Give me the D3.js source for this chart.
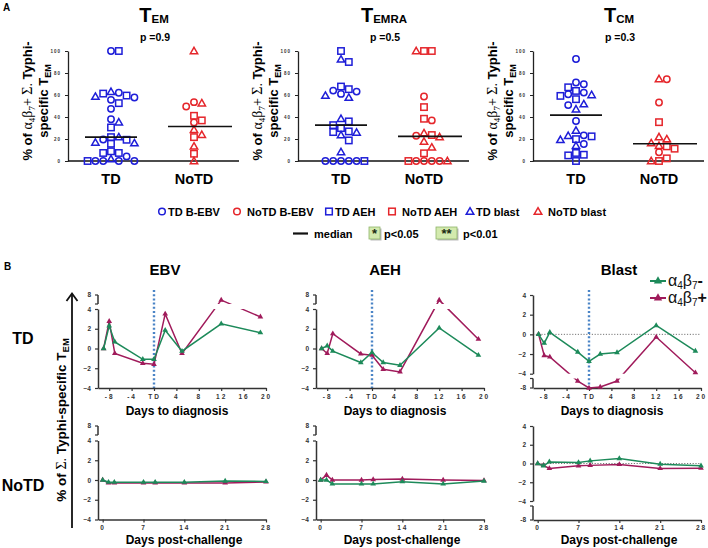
<!DOCTYPE html>
<html><head><meta charset="utf-8">
<script src="https://cdn.jsdelivr.net/npm/d3@7"></script>
<style>
body{margin:0;background:#fff}
svg{display:block}
text{font-family:"Liberation Sans",Arial,sans-serif}
</style>
</head><body>
<svg id="c" width="708" height="548"></svg>
<script>
// ---------------- DATA: panel A ----------------
const groupsA = ["TD", "NoTD"];
const subsetTitles = ["EM", "EMRA", "CM"];
const pValues = ["p =0.9", "p =0.5", "p =0.3"];
const yTicksA = [0, 20, 40, 60, 80, 100];
const legendLabelsA = ["TD B-EBV", "NoTD B-EBV", "TD AEH", "NoTD AEH", "TD blast", "NoTD blast"];

const temTD_BEBV = [100, 62, 57.7, 55.6, 47.4, 38, 19.6, 4.2, 0, 0, 0, 0];
const temTD_AEH = [100, 61.3, 59.5, 52.6, 30.5, 21.7, 19.3, 15.7, 8.8, 7.3, 7.3, 0];
const temTD_blast = [63, 58.6, 35.3, 21.7, 16.9, 16.3, 1.8];
const temNoTD_BEBV = [53.5, 49.5, 35];
const temNoTD_AEH = [41.1, 36.9, 21.7, 6.6];
const temNoTD_blast = [100, 52.6, 28.4, 23.9, 13.3, 0];

const temraTD_BEBV = [64, 63.1, 61, 0, 0, 0, 0, 0];
const temraTD_AEH = [100, 90, 67.7, 65.3, 36, 32.6, 29.9, 26.9, 26.3, 18.7, 0];
const temraTD_blast = [92.4, 59.5, 57.7, 38.4, 26, 23.6, 8.2];
const temraNoTD_BEBV = [58.6, 36.9, 23, 0, 0, 0, 0];
const temraNoTD_AEH = [100, 100, 49, 38.4, 23.6, 7, 0];
const temraNoTD_blast = [100, 25.4, 21.8, 17.8, 12.4, 0];

const tcmTD_BEBV = [92.7, 71.3, 69.8, 62.2, 60.7, 50.8, 36.3, 23.3, 15.4];
const tcmTD_AEH = [67, 63.7, 59.2, 56.2, 22.4, 19.9, 7.3, 5.7, 5.1, 0];
const tcmTD_blast = [60.1, 51.7, 47.1, 27.8, 23, 19.3, 13.9];
const tcmNoTD_BEBV = [74.3, 53.2, 7.9];
const tcmNoTD_AEH = [35.3, 13.3, 11.2, 2.4, 0];
const tcmNoTD_blast = [74.6, 21.8, 19.9, 16.3, 13.9, 0];

const mediansTD = [21.7, 32.6, 41.7];
const mediansNoTD = [31.4, 22.4, 15.7];

// ---------------- DATA: panel B ----------------
const antigens = ["EBV", "AEH", "Blast"];
const rowsB = ["TD", "NoTD"];
const daysTD = [-9, -8, -7, -2, 0, 2, 5, 12, 19];
const daysNoTD = [0, 1, 2, 7, 9, 14, 21, 28];
const xTicksTD = [-8, -4, 0, 4, 8, 12, 16, 20];
const xTickLabelsTD = ["-8", "-4", "TD", "4", "8", "12", "16", "20"];
const xTicksNoTD = [0, 7, 14, 21, 28];
const yTicksMain = [-4, -2, 0, 2, 4];

const ebvTD_neg = [0, 2.3, 0.67, -1.1, -1.1, 1.85, -0.27, 2.5, 1.6];
const ebvTD_pos = [0, 2.75, -0.5, -1.5, -1.6, 3.5, -0.5, 6.3, 3.2];
const aehTD_neg = [0, 0.27, -0.27, -1.42, -0.4, -1.42, -1.7, 2.08, -0.68];
const aehTD_pos = [0, -0.5, 1.5, -0.55, -0.68, -2.1, -2.37, 6.3, 0.94];
const blastTD_neg = [0, -0.9, 0.2, -1.8, -2.75, -2, -1.85, 0.9, -1.7];
const blastTD_pos = [0, -2.15, -2.3, -5.8, -8, -7.7, -5.8, -0.27, -3.9];

const ebvNo_neg = [0, -0.22, -0.22, -0.22, -0.22, -0.22, -0.1, -0.15];
const ebvNo_pos = [0, -0.3, -0.3, -0.3, -0.3, -0.3, -0.3, -0.2];
const aehNo_neg = [0, 0, -0.4, -0.4, -0.4, -0.17, -0.4, -0.1];
const aehNo_pos = [0, 0.5, 0, 0, 0.05, 0.1, 0, -0.05];
const blastNo_neg = [0, -0.25, 0.17, 0.1, 0.28, 0.53, -0.07, -0.25];
const blastNo_pos = [0, -0.2, -0.53, -0.25, -0.2, -0.1, -0.53, -0.5];

// ---------------- DRAWING ----------------
const svg = d3.select("#c");
const SERIF = '"Liberation Serif","DejaVu Serif",serif';
const BLUE = "#1e1ed8", RED = "#e5262b", GREEN = "#1d8a5a", MAG = "#a01b5b";

function shape(g, type, cx, cy, color, s) {
  s = s || 3.2;
  if (type === "circle") {
    g.append("circle").attr("cx", cx).attr("cy", cy).attr("r", s)
      .attr("fill", "none").attr("stroke", color).attr("stroke-width", 1.5);
  } else if (type === "square") {
    g.append("rect").attr("x", cx - s).attr("y", cy - s).attr("width", 2 * s).attr("height", 2 * s)
      .attr("fill", "none").attr("stroke", color).attr("stroke-width", 1.5);
  } else {
    const h = s * 1.9, w = s * 1.15;
    g.append("path").attr("d", `M${cx},${cy - h * 0.6}L${cx + w},${cy + h * 0.45}L${cx - w},${cy + h * 0.45}Z`)
      .attr("fill", "none").attr("stroke", color).attr("stroke-width", 1.5).attr("stroke-linejoin", "miter");
  }
}

svg.append("text").attr("x", 3).attr("y", 11).text("A").attr("font-size", 10).attr("font-weight", "bold");

const yA = d3.scaleLinear().domain([0, 100]).range([161, 51]);
const panelsA = [
  { axisX: 68, TD: [temTD_BEBV, temTD_AEH, temTD_blast], NoTD: [temNoTD_BEBV, temNoTD_AEH, temNoTD_blast] },
  { axisX: 298, TD: [temraTD_BEBV, temraTD_AEH, temraTD_blast], NoTD: [temraNoTD_BEBV, temraNoTD_AEH, temraNoTD_blast] },
  { axisX: 533, TD: [tcmTD_BEBV, tcmTD_AEH, tcmTD_blast], NoTD: [tcmNoTD_BEBV, tcmNoTD_AEH, tcmNoTD_blast] }
];
const shapes = ["circle", "square", "triangle"];

panelsA.forEach((p, pi) => {
  const g = svg.append("g");
  const ax = p.axisX;
  const xg = d3.scalePoint().domain(groupsA).range([ax + 43, ax + 126]);
  const t = g.append("text").attr("x", ax + 86).attr("y", 22).attr("text-anchor", "middle").attr("font-weight", "bold");
  t.append("tspan").attr("font-size", 20).text("T");
  t.append("tspan").attr("font-size", 11.5).attr("dy", 1).text(subsetTitles[pi]);
  g.append("text").attr("x", ax + 87).attr("y", 41).attr("text-anchor", "middle").attr("font-weight", "bold")
    .attr("font-size", 10.5).text(pValues[pi]);
  const yAxis = g.append("g").attr("transform", `translate(${ax},0)`)
    .call(d3.axisLeft(yA).tickValues(yTicksA).tickSize(3).tickSizeOuter(0).tickPadding(4));
  yAxis.select(".domain").attr("stroke", "#222").attr("stroke-width", 1.3);
  yAxis.selectAll(".tick line").attr("stroke", "#222");
  yAxis.selectAll("text").attr("font-size", 4.5).attr("font-weight", "bold").attr("fill", "#333")
    .attr("letter-spacing", "1px");
  g.append("line").attr("x1", ax).attr("x2", ax + 171).attr("y1", yA(0)).attr("y2", yA(0))
    .attr("stroke", "#111").attr("stroke-width", 1.5);
  groupsA.forEach(gr => {
    g.append("text").attr("x", xg(gr)).attr("y", 184).attr("text-anchor", "middle")
      .attr("font-size", 14.5).attr("font-weight", "bold").text(gr);
  });
  const l1 = g.append("text").attr("transform", `translate(${ax - 36},101) rotate(-90)`)
    .attr("text-anchor", "middle").attr("font-size", 13).attr("font-weight", "bold");
  l1.append("tspan").text("% of ");
  l1.append("tspan").attr("font-family", SERIF).attr("font-weight", "normal").attr("font-size", 14).text("α");
  l1.append("tspan").attr("font-family", SERIF).attr("font-weight", "normal").attr("font-size", 9).attr("dy", 3).text("4");
  l1.append("tspan").attr("font-family", SERIF).attr("font-weight", "normal").attr("font-size", 14).attr("dy", -3).text("β");
  l1.append("tspan").attr("font-family", SERIF).attr("font-weight", "normal").attr("font-size", 9).attr("dy", 3).text("7");
  l1.append("tspan").attr("font-family", SERIF).attr("font-weight", "normal").attr("font-size", 14).attr("dy", -3).text("+ Σ.");
  l1.append("tspan").text(" Typhi-");
  const l2 = g.append("text").attr("transform", `translate(${ax - 20},101) rotate(-90)`)
    .attr("text-anchor", "middle").attr("font-size", 13).attr("font-weight", "bold");
  l2.append("tspan").text("specific T");
  l2.append("tspan").attr("font-size", 9).attr("dy", 3).text("EM");

  groupsA.forEach((gr, gi) => {
    const color = gi === 0 ? BLUE : RED;
    const pts = [];
    p[gr].forEach((arr, si) => arr.forEach(v => pts.push({ v, shape: shapes[si] })));
    pts.sort((a, b) => b.v - a.v);
    const placed = [];
    const step = 7.8;
    pts.forEach(pt => {
      const cy = yA(pt.v);
      let off = 0;
      for (let k = 0; k < 30; k++) {
        const cand = (k === 0 ? 0 : (k % 2 ? 1 : -1) * Math.ceil(k / 2)) * step;
        const hit = placed.some(q => Math.abs(q.cy - cy) < 6.5 && Math.abs(q.off - cand) < 7);
        if (!hit) { off = cand; break; }
      }
      placed.push({ cy, off });
      shape(g, pt.shape, xg(gr) + off, cy, color);
    });
    const med = gi === 0 ? mediansTD[pi] : mediansNoTD[pi];
    g.append("line").attr("x1", xg(gr) - 26).attr("x2", xg(gr) + 38 - (gi === 0 ? 12 : 0))
      .attr("y1", yA(med)).attr("y2", yA(med)).attr("stroke", "#111").attr("stroke-width", 1.6);
  });
});

const legX = [158, 233, 325, 388, 466, 534];
legendLabelsA.forEach((lab, i) => {
  const color = i % 2 === 0 ? BLUE : RED;
  const sh = shapes[Math.floor(i / 2)];
  const gap = i % 2 === 0 ? 10 : 14;
  shape(svg, sh, legX[i] + 4, 211.5, color, 3.3);
  svg.append("text").attr("x", legX[i] + gap).attr("y", 216).attr("font-size", 11).attr("font-weight", "bold").text(lab);
});
svg.append("line").attr("x1", 293).attr("x2", 308).attr("y1", 233.5).attr("y2", 233.5).attr("stroke", "#111").attr("stroke-width", 2.2);
svg.append("text").attr("x", 314).attr("y", 237.5).attr("font-size", 11).attr("font-weight", "bold").text("median");
[[369, 11, "*", "p<0.05", 384], [436, 21, "**", "p<0.01", 463]].forEach(b => {
  svg.append("rect").attr("x", b[0] + 1.5).attr("y", 228.5).attr("width", b[1]).attr("height", 12).attr("fill", "#bbb");
  svg.append("rect").attr("x", b[0]).attr("y", 227).attr("width", b[1]).attr("height", 12)
    .attr("fill", "#d3eaae").attr("stroke", "#8fb56a").attr("stroke-width", 0.8);
  svg.append("text").attr("x", b[0] + b[1] / 2).attr("y", 238).attr("text-anchor", "middle")
    .attr("font-size", 13).attr("font-weight", "bold").attr("fill", "#1a2a10").text(b[2]);
  svg.append("text").attr("x", b[4]).attr("y", 237.5).attr("font-size", 11).attr("font-weight", "bold").text(b[3]);
});

// ---------------- Panel B ----------------
svg.append("text").attr("x", 4).attr("y", 270).text("B").attr("font-size", 10).attr("font-weight", "bold");
const titleX = [165, 385, 619];
antigens.forEach((a, i) => {
  svg.append("text").attr("x", titleX[i]).attr("y", 275).attr("text-anchor", "middle")
    .attr("font-size", 15).attr("font-weight", "bold").text(a);
});
svg.append("text").attr("x", 23).attr("y", 344).attr("text-anchor", "middle").attr("font-size", 16).attr("font-weight", "bold").text(rowsB[0]);
svg.append("text").attr("x", 23).attr("y", 491).attr("text-anchor", "middle").attr("font-size", 16).attr("font-weight", "bold").text(rowsB[1]);
svg.append("line").attr("x1", 72).attr("x2", 72).attr("y1", 294).attr("y2", 528).attr("stroke", "#111").attr("stroke-width", 1.8);
svg.append("path").attr("d", "M66.5,301L72,293.5L77.5,301").attr("fill", "none").attr("stroke", "#111").attr("stroke-width", 1.8);
const yl = svg.append("text").attr("transform", "translate(66,420) rotate(-90)").attr("text-anchor", "middle")
  .attr("font-size", 13.5).attr("font-weight", "bold");
yl.append("tspan").text("% of ");
yl.append("tspan").attr("font-family", SERIF).attr("font-weight", "normal").attr("font-size", 14).text("Σ.");
yl.append("tspan").text(" Typhi-specific T");
yl.append("tspan").attr("font-size", 9.5).attr("dy", 3).text("EM");

[[GREEN, 281, "-"], [MAG, 298, "+"]].forEach(l => {
  svg.append("line").attr("x1", 650).attr("x2", 666).attr("y1", l[1]).attr("y2", l[1]).attr("stroke", l[0]).attr("stroke-width", 2);
  svg.append("path").attr("d", d3.symbol(d3.symbolTriangle, 30)()).attr("transform", `translate(658,${l[1]})`).attr("fill", l[0]);
  const t = svg.append("text").attr("x", 668).attr("y", l[1] + 5).attr("font-family", SERIF).attr("font-size", 16).attr("fill", "#111");
  t.append("tspan").text("α");
  t.append("tspan").attr("font-size", 10).attr("dy", 3).text("4");
  t.append("tspan").attr("dy", -3).text("β");
  t.append("tspan").attr("font-size", 10).attr("dy", 3).text("7");
  t.append("tspan").attr("dy", -3).attr("font-family", '"Liberation Sans",Arial,sans-serif').attr("font-weight", "bold").text(l[2]);
});

const cfgs = [
  { id: "e1", ax: 98, td: true, brkAbove: true, main: [388, 309], brkD: [5, 8], brk: [304, 295], brkTick: 8, neg: ebvTD_neg, pos: ebvTD_pos },
  { id: "a1", ax: 316, td: true, brkAbove: true, main: [388, 309], brkD: [5, 8], brk: [304, 295], brkTick: 8, neg: aehTD_neg, pos: aehTD_pos },
  { id: "b1", ax: 533, td: true, brkAbove: false, main: [373.7, 295], brkD: [-8, -5], brk: [388, 378.5], brkTick: -8, neg: blastTD_neg, pos: blastTD_pos, ref: true },
  { id: "e2", ax: 98, td: false, brkAbove: true, main: [519.5, 440.5], brkD: [5, 8], brk: [435, 426], brkTick: 8, neg: ebvNo_neg, pos: ebvNo_pos },
  { id: "a2", ax: 316, td: false, brkAbove: true, main: [519.5, 440.5], brkD: [5, 8], brk: [435, 426], brkTick: 8, neg: aehNo_neg, pos: aehNo_pos },
  { id: "b2", ax: 533, td: false, brkAbove: false, main: [501, 426], brkD: [-8, -5], brk: [520, 506], brkTick: -8, neg: blastNo_neg, pos: blastNo_pos, ref: true }
];
const defs = svg.append("defs");
const AXC = "#333";
cfgs.forEach(c => {
  const g = svg.append("g");
  const days = c.td ? daysTD : daysNoTD;
  const x = c.td ? d3.scaleLinear().domain([-10, 20]).range([c.ax, c.ax + 168])
                 : d3.scaleLinear().domain([-0.8, 28]).range([c.ax, c.ax + 168]);
  const yM = d3.scaleLinear().domain([-4, 4]).range(c.main);
  const yB = d3.scaleLinear().domain(c.brkD).range(c.brk);
  const y = v => (v >= -4 && v <= 4) ? yM(v) : yB(v);
  const bottom = Math.max(c.main[0], c.brk[0]);
  const mTop = c.main[1], mBot = c.main[0], bTop = c.brk[1], bBot = c.brk[0];
  const cp = defs.append("clipPath").attr("id", "cl" + c.id);
  if (c.brkAbove) {
    cp.append("rect").attr("x", c.ax - 10).attr("width", 190).attr("y", mTop).attr("height", mBot - mTop + 20);
    cp.append("rect").attr("x", c.ax - 10).attr("width", 190).attr("y", bTop - 20).attr("height", bBot - bTop + 20);
  } else {
    cp.append("rect").attr("x", c.ax - 10).attr("width", 190).attr("y", mTop - 20).attr("height", mBot - mTop + 20);
    cp.append("rect").attr("x", c.ax - 10).attr("width", 190).attr("y", bTop).attr("height", bBot - bTop + 20);
  }
  if (c.ref) {
    g.append("line").attr("x1", c.ax).attr("x2", c.ax + 168).attr("y1", yM(0)).attr("y2", yM(0))
      .attr("stroke", "#777").attr("stroke-width", 1).attr("stroke-dasharray", "1.2,1.6");
  }
  if (c.td) {
    g.append("line").attr("x1", x(0)).attr("x2", x(0)).attr("y1", 290).attr("y2", bottom)
      .attr("stroke", "#4a84c6").attr("stroke-width", 2.4).attr("stroke-dasharray", "2,2.2");
  }
  const ya = g.append("g").attr("transform", `translate(${c.ax},0)`)
    .call(d3.axisLeft(yM).tickValues(yTicksMain).tickSize(3).tickSizeOuter(0).tickPadding(4));
  ya.select(".domain").attr("stroke", AXC).attr("stroke-width", 1.5);
  ya.selectAll(".tick line").attr("stroke", AXC).attr("stroke-width", 1.2);
  ya.selectAll("text").attr("font-size", 6.5).attr("font-weight", "bold").attr("fill", "#333");
  g.append("line").attr("x1", c.ax).attr("x2", c.ax).attr("y1", bTop).attr("y2", bBot).attr("stroke", AXC).attr("stroke-width", 1.5);
  [bTop, bBot].forEach(yy => g.append("line").attr("x1", c.ax - 3).attr("x2", c.ax).attr("y1", yy).attr("y2", yy).attr("stroke", AXC).attr("stroke-width", 1.2));
  g.append("text").attr("x", c.ax - 7).attr("y", yB(c.brkTick) + 2.3).attr("text-anchor", "end")
    .attr("font-size", 6.5).attr("font-weight", "bold").attr("fill", "#333").text(c.brkTick);
  const xa = g.append("g").attr("transform", `translate(0,${bottom})`)
    .call(d3.axisBottom(x).tickValues(c.td ? xTicksTD : xTicksNoTD)
      .tickFormat((d, i) => c.td ? xTickLabelsTD[i] : String(d)).tickSize(3).tickSizeOuter(0));
  xa.select(".domain").attr("stroke", AXC).attr("stroke-width", 1.5);
  xa.selectAll(".tick line").attr("stroke", AXC).attr("stroke-width", 1.2);
  xa.selectAll("text").attr("font-size", 6.5).attr("font-weight", "bold").attr("fill", "#333")
    .attr("letter-spacing", "2px").attr("y", c.td ? 6.5 : 5.5);
  g.append("text").attr("x", c.ax + (c.td ? 79 : 86)).attr("y", c.td ? 415 : 544).attr("text-anchor", "middle")
    .attr("font-size", 12).attr("font-weight", "bold").text(c.td ? "Days to diagnosis" : "Days post-challenge");
  [[c.pos, MAG], [c.neg, GREEN]].forEach(s => {
    const pts = days.map((d, i) => [d, s[0][i]]);
    g.append("path").datum(pts).attr("clip-path", `url(#cl${c.id})`)
      .attr("d", d3.line().x(d => x(d[0])).y(d => y(d[1])))
      .attr("fill", "none").attr("stroke", s[1]).attr("stroke-width", 1.5);
    g.selectAll(null).data(pts).enter().append("path")
      .attr("d", d3.symbol(d3.symbolTriangle, 14)())
      .attr("transform", d => `translate(${x(d[0])},${y(d[1])})`).attr("fill", s[1]);
  });
});
</script>
</body></html>
